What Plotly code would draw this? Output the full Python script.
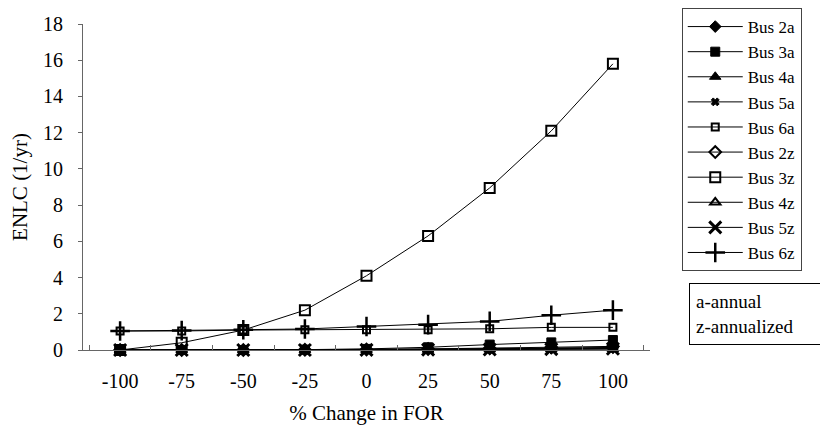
import plotly.graph_objects as go

x_labels = ["-100", "-75", "-50", "-25", "0", "25", "50", "75", "100"]

bus2a = [0, 0, 0, 0, 0.02, 0.04, 0.06, 0.09, 0.12]
bus3a = [0, 0, 0, 0.02, 0.06, 0.15, 0.3, 0.42, 0.55]
bus4a = [0, 0, 0, 0, 0.01, 0.02, 0.03, 0.04, 0.05]
bus5a = [0, 0, 0, 0, 0.02, 0.04, 0.07, 0.1, 0.14]
bus6a = [1.05, 1.05, 1.1, 1.12, 1.12, 1.12, 1.17, 1.25, 1.25]
bus2z = [0, 0, 0, 0.01, 0.03, 0.06, 0.1, 0.15, 0.2]
bus3z = [0.0, 0.4, 1.1, 2.2, 4.1, 6.3, 8.95, 12.1, 15.8]
bus4z = [0, 0, 0, 0, 0.01, 0.02, 0.04, 0.06, 0.08]
bus5z = [0, 0, 0, 0, 0.01, 0.02, 0.03, 0.05, 0.07]
bus6z = [1.05, 1.07, 1.12, 1.16, 1.3, 1.4, 1.58, 1.92, 2.2]

series = [
    ("Bus 2a", bus2a, "diamond", 9, 1),
    ("Bus 3a", bus3a, "square", 9, 1),
    ("Bus 4a", bus4a, "triangle-up", 10, 1),
    ("Bus 5a", bus5a, "x", 7, 1),
    ("Bus 6a", bus6a, "square-open", 7, 2),
    ("Bus 2z", bus2z, "diamond-open", 9, 2),
    ("Bus 3z", bus3z, "square-open", 10, 2),
    ("Bus 4z", bus4z, "triangle-up-open", 9, 2),
    ("Bus 5z", bus5z, "x-thin-open", 12, 3),
    ("Bus 6z", bus6z, "cross-thin-open", 14, 2.5),
]

FONT = "Times New Roman, Liberation Serif, serif"

fig = go.Figure()
for name, vals, sym, size, lw in series:
    fig.add_trace(go.Scatter(
        x=x_labels, y=vals, name=name, mode="lines+markers",
        cliponaxis=False,
        line=dict(color="black", width=1),
        marker=dict(symbol=sym, size=size, color="black",
                    line=dict(color="black", width=lw)),
    ))

fig.update_layout(
    width=820, height=427,
    margin=dict(l=75, r=178, t=16, b=85, autoexpand=False),
    paper_bgcolor="white", plot_bgcolor="white",
    font=dict(family=FONT, size=20, color="black"),
    showlegend=True,
    legend=dict(
        x=1.056, y=1.049, xanchor="left", yanchor="top",
        bordercolor="#444", borderwidth=1,
        font=dict(family=FONT, size=17),
        tracegroupgap=0, itemwidth=55, maxheight=400,
    ),
    xaxis=dict(
        type="category", showgrid=False, zeroline=False,
        showline=True, linecolor="#666", linewidth=1,
        ticks="inside", ticklen=5, tickcolor="#666", tickson="boundaries",
        tickfont=dict(family=FONT, size=20), ticklabelstandoff=13,
        title=dict(text="% Change in FOR", font=dict(family=FONT, size=21), standoff=14),
    ),
    yaxis=dict(
        range=[0, 18], dtick=2, showgrid=False, zeroline=False,
        showline=True, linecolor="#666", linewidth=1,
        ticks="outside", ticklen=4, tickcolor="#666",
        tickfont=dict(family=FONT, size=20), ticklabelstandoff=11,
        title=dict(text="ENLC (1/yr)", font=dict(family=FONT, size=21), standoff=19),
    ),
    annotations=[dict(
        xref="paper", yref="paper", x=1.069, y=0.2055,
        xanchor="left", yanchor="top",
        text="a-annual<br>z-annualized", showarrow=False, align="left",
        font=dict(family=FONT, size=19),
        bordercolor="black", borderwidth=1, borderpad=6,
        width=125, height=48,
    )],
)

fig.write_html("out.html")
